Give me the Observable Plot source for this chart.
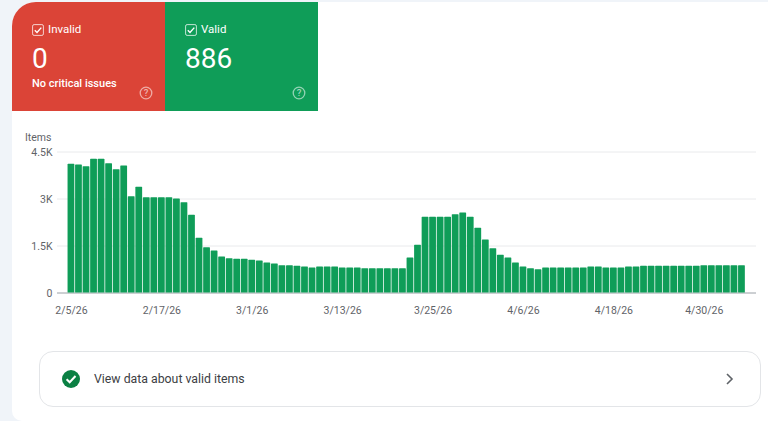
<!DOCTYPE html>
<html>
<head>
<meta charset="utf-8">
<script src="https://cdn.jsdelivr.net/npm/d3@7"></script>
<script src="https://cdn.jsdelivr.net/npm/@observablehq/plot@0.6"></script>
<style>
html,body{margin:0;padding:0;width:768px;height:421px;overflow:hidden;background:#f0f4f9;font-family:Roboto,sans-serif}
.abs{position:absolute}
#panel{left:12px;top:2px;width:756px;height:419px;background:#fff;border-radius:24px 0 0 10px}
.card{top:2px;height:109px;width:153px;color:#fff}
#red{left:12px;background:#db4437;border-radius:24px 0 0 0}
#green{left:165px;background:#0f9d58}
.t{position:absolute;white-space:nowrap;line-height:1}
#chart{left:0;top:0}
#row{left:39px;top:351px;width:720px;height:54px;border:1px solid #e3e5e8;border-radius:14px;background:#fff}
</style>
</head>
<body>
<div id="panel" class="abs"></div>
<div id="red" class="abs card">
  <svg class="t" style="left:20px;top:22px" width="12" height="12" viewBox="0 0 12 12"><rect x=".6" y=".6" width="10.8" height="10.8" rx="1.5" fill="none" stroke="#fff" stroke-opacity=".75" stroke-width="1"/><path d="M2.8 6.2 5 8.4 9.3 3.6" fill="none" stroke="#fff" stroke-width="1.4"/></svg>
  <div class="t" style="left:36px;top:22px;font-size:11.5px;font-weight:400">Invalid</div>
  <div class="t" style="left:20px;top:43px;font-size:28px">0</div>
  <div class="t" style="left:20px;top:76px;font-size:11px;font-weight:500">No critical issues</div>
  <svg class="t" style="left:127px;top:84px" width="14" height="14" viewBox="0 0 14 14"><circle cx="7" cy="7" r="5.8" fill="none" stroke="#fff" stroke-opacity=".55" stroke-width="1.3"/><text x="7" y="10.4" text-anchor="middle" font-size="9.5" font-weight="500" fill="#fff" fill-opacity=".6" font-family="Roboto">?</text></svg>
</div>
<div id="green" class="abs card">
  <svg class="t" style="left:20px;top:22px" width="12" height="12" viewBox="0 0 12 12"><rect x=".6" y=".6" width="10.8" height="10.8" rx="1.5" fill="none" stroke="#fff" stroke-opacity=".75" stroke-width="1"/><path d="M2.8 6.2 5 8.4 9.3 3.6" fill="none" stroke="#fff" stroke-width="1.4"/></svg>
  <div class="t" style="left:36px;top:22px;font-size:11.5px;font-weight:400">Valid</div>
  <div class="t" style="left:20px;top:43px;font-size:28px">886</div>
  <svg class="t" style="left:127px;top:84px" width="14" height="14" viewBox="0 0 14 14"><circle cx="7" cy="7" r="5.8" fill="none" stroke="#fff" stroke-opacity=".55" stroke-width="1.3"/><text x="7" y="10.4" text-anchor="middle" font-size="9.5" font-weight="500" fill="#fff" fill-opacity=".6" font-family="Roboto">?</text></svg>
</div>
<div class="t abs" style="left:25px;top:133px;font-size:10.5px;color:#5f6368">Items</div>
<div id="row" class="abs">
  <svg class="t" style="left:21px;top:17px" width="20" height="20" viewBox="0 0 20 20"><circle cx="10" cy="10" r="9" fill="#0b8043"/><path d="M5.6 10.2 8.7 13.3 14.5 7" fill="none" stroke="#fff" stroke-width="2"/></svg>
  <div class="t" style="left:54px;top:21px;font-size:12.3px;color:#3c4043">View data about valid items</div>
  <svg class="t" style="left:684px;top:20px" width="12" height="14" viewBox="0 0 12 14"><path d="M3 2 8 7 3 12" fill="none" stroke="#5f6368" stroke-width="1.6"/></svg>
</div>
<div id="chart" class="abs"></div>
<script>
const tickLabels = ["2/5/26","2/17/26","3/1/26","3/13/26","3/25/26","4/6/26","4/18/26","4/30/26"];
const yTicks = [0, 1500, 3000, 4500];
const yTickLabels = ["0", "1.5K", "3K", "4.5K"];
const values = [
  4107,4086,4033,4267,4267,4128,3937,4054,3075,3373,
  3043,3043,3043,3043,3000,2883,2479,1745,1447,1340,
  1149,1096,1075,1075,1043,1021,958,926,872,872,
  851,830,798,830,830,830,798,798,798,777,
  777,777,777,777,777,1117,1521,2415,2415,2415,
  2415,2500,2553,2415,2064,1692,1415,1202,1117,958,
  830,777,745,798,798,798,798,798,798,830,
  830,798,798,798,830,830,851,851,851,851,
  851,851,851,851,872,872,872,872,872,872
];
const fmt = d3.utcFormat("%-m/%-d/%y");
const dates = d3.utcDay.range(new Date(Date.UTC(2026,1,5)), new Date(Date.UTC(2026,4,6))).map(fmt);
const rows = dates.map((d,i)=>({date:d, items:values[i]}));

const plot = Plot.plot({
  width:768, height:421,
  marginTop:151.5, marginBottom:128.5, marginLeft:57, marginRight:12,
  style:{fontFamily:"Roboto, sans-serif", fontSize:"10.5px", background:"transparent"},
  x:{type:"band", domain:dates, range:[66.8,745.6], padding:0.1, align:0.5},
  y:{domain:[0,4500], label:null},
  marks:[
    Plot.ruleY([1500,3000,4500],{stroke:"#e9eaec", strokeWidth:1}),
    Plot.ruleY([0],{stroke:"#9aa0a6", strokeWidth:1}),
    Plot.barY(rows,{x:"date", y:"items", fill:"#0f9d58", rx:0.6}),
    Plot.axisY({ticks:yTicks, tickSize:0, tickPadding:5, dy:0.5, label:null, color:"#5f6368",
      tickFormat:d=>yTickLabels[yTicks.indexOf(d)]}),
    Plot.axisX({ticks:tickLabels, tickSize:0, tickPadding:14, label:null, color:"#5f6368"})
  ]
});
document.getElementById("chart").appendChild(plot);
</script>
</body>
</html>
